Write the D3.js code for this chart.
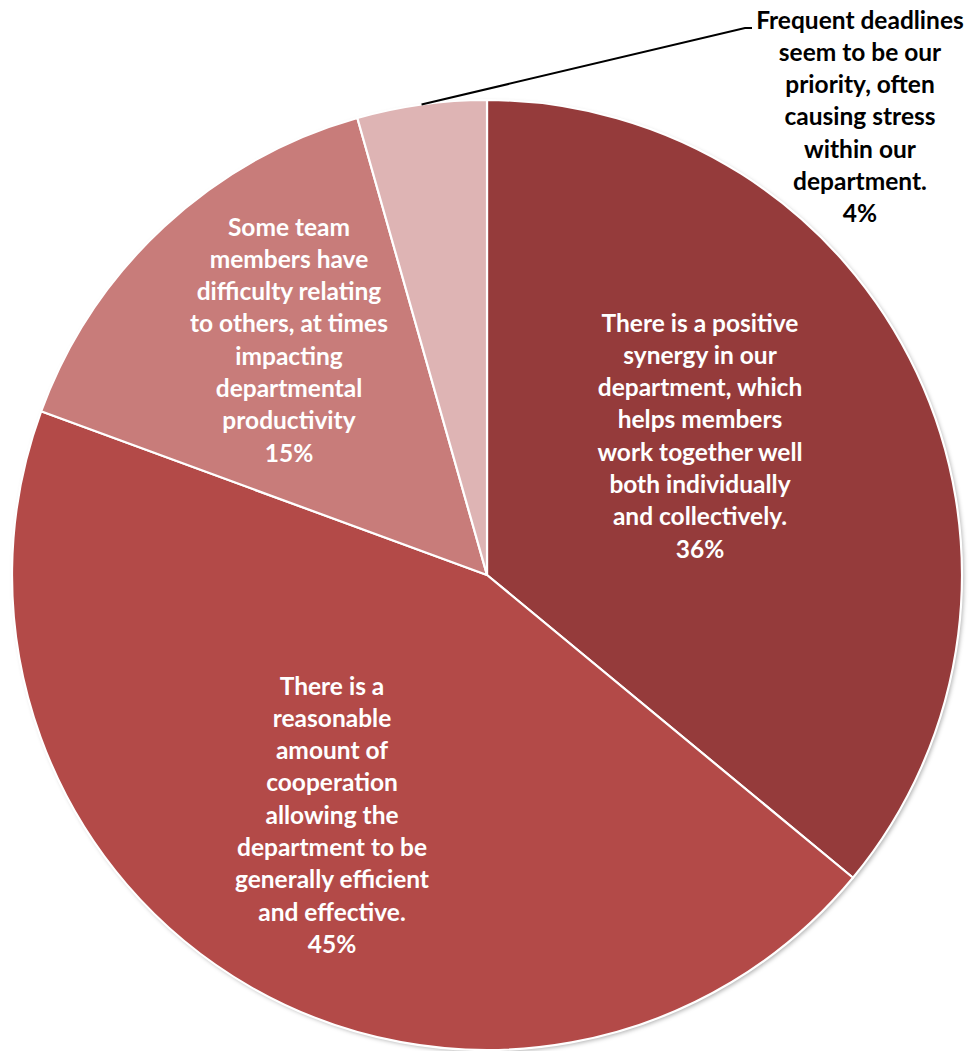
<!DOCTYPE html>
<html><head><meta charset="utf-8">
<script src="https://cdn.jsdelivr.net/npm/d3@7"></script>
<style>html,body{margin:0;padding:0;background:#fff}svg{display:block}</style>
</head><body>
<script>
// ---- data ----
const categories = [
  ["There is a positive","synergy in our","department, which","helps members","work together well","both individually","and collectively."],
  ["There is a","reasonable","amount of","cooperation","allowing the","department to be","generally efficient","and effective."],
  ["Some team","members have","difficulty relating","to others, at times","impacting","departmental","productivity"],
  ["Frequent deadlines","seem to be our","priority, often","causing stress","within our","department."]
];
const values = [36.0, 44.6, 15.0, 4.4];
const colors = ["#953B3B", "#B34A48", "#C87C7A", "#DEB4B4"];
const labelColors = ["#fff", "#fff", "#fff", "#000"];

// ---- layout ----
const W = 970, H = 1051;
const cx = 487, cy = 575, R = 475;
const labelPos = [[700, 323], [332, 686], [289, 227], [860, 20]];
const lineH = 32.3;

const svg = d3.select("body").append("svg").attr("width", W).attr("height", H);
const defs = svg.append("defs");
const f = defs.append("filter").attr("id","sh").attr("x","-10%").attr("y","-10%").attr("width","120%").attr("height","120%");
f.append("feDropShadow").attr("dx",2).attr("dy",2).attr("stdDeviation",2).attr("flood-color","#000").attr("flood-opacity",0.3);

const pie = d3.pie().sort(null).value(d => d)(values);
const arc = d3.arc().innerRadius(0).outerRadius(R);
const g = svg.append("g").attr("transform", `translate(${cx},${cy})`);
g.append("circle").attr("r", R).attr("fill", "#fff").attr("filter", "url(#sh)");
g.selectAll("path").data(pie).join("path")
  .attr("d", arc).attr("fill", (d, i) => colors[i])
  .attr("stroke", "#fff").attr("stroke-width", 2.2).attr("stroke-linejoin", "round");

// leader line for the small slice
const small = pie[3];
const midA = (small.startAngle + small.endAngle) / 2;
const p0 = [cx + Math.sin(midA) * R, cy - Math.cos(midA) * R];
svg.append("polyline")
  .attr("points", `${p0[0]},${p0[1]} ${labelPos[3][0]-115},${labelPos[3][1]+8} ${labelPos[3][0]-108},${labelPos[3][1]+8}`)
  .attr("fill", "none").attr("stroke", "#000").attr("stroke-width", 2);

const total = d3.sum(values);
categories.forEach((lines, i) => {
  const all = lines.concat([Math.round(values[i] / total * 100) + "%"]);
  const t = svg.append("text")
    .attr("text-anchor", "middle")
    .attr("font-family", "Lato, 'Open Sans', sans-serif")
    .attr("font-weight", "bold").attr("font-size", 24.5)
    .attr("fill", labelColors[i]);
  all.forEach((s, k) => {
    t.append("tspan").attr("x", labelPos[i][0]).attr("y", labelPos[i][1] + k * lineH)
      .attr("dy", "0.35em").text(s);
  });
});
</script>
</body></html>
